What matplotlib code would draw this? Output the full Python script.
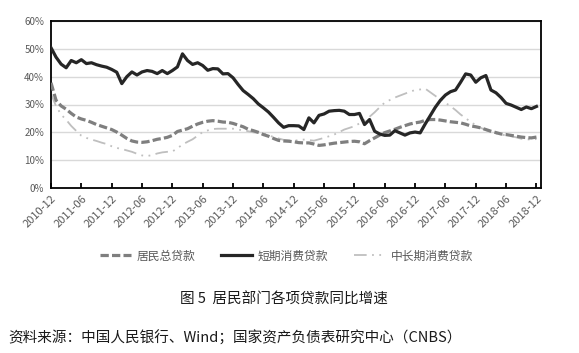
import matplotlib
matplotlib.use("Agg")
import matplotlib.pyplot as plt
import numpy as np
import pandas as pd

plt.rcParams['font.family'] = ['Noto Sans CJK SC', 'DejaVu Sans']

months = pd.period_range('2010-12', '2018-12', freq='M').strftime('%Y-%m').tolist()
tick_labels = months[::6]

total_loans = [37.8, 31.5, 29.5, 28.3, 26.8, 25.5, 24.8, 24.3, 23.6, 22.8,
               22.2, 21.6, 21.0, 20.1, 19.0, 17.8, 16.9, 16.5, 16.4, 16.6,
               17.0, 17.5, 17.8, 18.2, 18.9, 20.3, 20.8, 21.3, 22.2, 23.0,
               23.6, 24.0, 24.2, 24.0, 23.7, 23.6, 23.2, 22.6, 22.0, 21.1,
               20.6, 20.0, 19.2, 18.6, 17.8, 17.1, 16.9, 16.8, 16.6, 16.3,
               16.2, 16.2, 15.8, 15.3, 15.5, 15.8, 16.1, 16.3, 16.5, 16.7,
               16.8, 16.6, 15.9, 17.0, 18.0, 19.0, 19.9, 20.5, 21.1, 21.8,
               22.4, 23.0, 23.4, 23.7, 24.3, 24.6, 24.6, 24.4, 24.1, 23.8,
               23.6, 23.4, 22.9, 22.3, 22.0, 21.6, 21.0, 20.4, 19.9, 19.4,
               19.2, 18.9, 18.6, 18.3, 18.1, 18.0, 18.3]

short_term = [50.4, 47.0, 44.5, 43.2, 45.8, 45.0, 46.1, 44.7, 45.0, 44.3,
              43.8, 43.4, 42.6, 41.6, 37.5, 40.0, 41.7, 40.6, 41.7, 42.2,
              41.9, 41.1, 42.2, 41.1, 42.2, 43.5, 48.2, 45.8, 44.4, 45.0,
              44.0, 42.3, 42.9, 42.8, 41.0, 41.1, 39.6, 37.2, 35.0, 33.6,
              32.1, 30.2, 28.8, 27.3, 25.4, 23.4, 21.8, 22.4, 22.4, 22.3,
              21.0, 25.2, 23.4, 26.1, 26.6, 27.6, 27.8, 27.9, 27.6, 26.4,
              26.4, 26.8, 22.8, 24.6, 20.4, 19.4, 18.9, 19.0, 20.6, 19.8,
              19.0, 19.8, 20.1, 19.8, 23.0, 26.0, 29.0, 31.5, 33.4, 34.6,
              35.2, 38.0, 41.0, 40.6, 38.0, 39.6, 40.4, 35.2, 34.2, 32.5,
              30.4, 29.8, 29.0, 28.2, 29.1, 28.5, 29.3]

long_term = [33.8, 29.4, 26.4, 24.5, 22.3, 20.5, 18.8, 18.0, 17.4, 16.9,
             16.3, 15.8, 15.0, 14.4, 14.0, 13.5, 13.0, 12.3, 11.7, 11.5,
             11.8, 12.4, 12.8, 13.0, 13.1, 14.3, 15.6, 16.6, 17.5, 18.8,
             20.1, 20.7, 21.2, 21.3, 21.3, 21.3, 21.3, 21.0, 20.7, 20.4,
             20.0, 19.8, 19.6, 19.0, 18.3, 17.8, 17.3, 17.1, 17.0, 17.2,
             17.4, 17.2, 17.0, 17.5, 18.0, 18.6, 19.2, 20.1, 21.0, 21.6,
             22.2, 23.2, 24.3, 25.6, 27.2, 29.0, 30.7, 31.6, 32.5, 33.2,
             33.9, 34.6, 35.2, 35.4, 35.7, 34.4, 33.1, 31.8, 30.6, 29.4,
             28.0, 26.4, 25.1, 23.7, 22.6, 21.6, 20.8, 20.1, 19.6, 19.2,
             18.9, 18.6, 18.2, 17.7, 17.5, 17.4, 17.6]

series_names = ['居民总贷款', '短期消费贷款', '中长期消费贷款']

fig = plt.figure(figsize=(5.79, 3.53), dpi=100)
ax = fig.add_axes([51/579, 1 - 188/353, 490/579, 167/353])

x = np.arange(len(months))
ax.plot(x, total_loans, color='#7F7F7F', lw=2.3, dashes=(2.6, 1.0),
        label=series_names[0], zorder=3)
ax.plot(x, short_term, color='#262626', lw=2.3, label=series_names[1], zorder=4)
ax.plot(x, long_term, color='#BFBFBF', lw=1.3, dashes=(7, 3, 1, 3, 1, 3),
        label=series_names[2], zorder=2)

ax.set_xlim(0, 96.9)
ax.set_ylim(0, 60)
ax.set_yticks(np.arange(0, 61, 10))
ax.set_yticklabels([f'{v}%' for v in range(0, 61, 10)])
ax.yaxis.grid(True, color='#D9D9D9', lw=1.0)
ax.set_axisbelow(True)

ticks = x[::6]
ax.set_xticks(ticks)
ax.set_xticklabels(tick_labels, rotation=45, ha='right', rotation_mode='anchor')

for s in ax.spines.values():
    s.set_color('black')
    s.set_linewidth(1.3)

ax.tick_params(axis='x', direction='in', length=3.5, width=1.3, colors='black',
               labelcolor='#595959', labelsize=8, pad=4)
ax.tick_params(axis='y', length=0, labelcolor='#595959', labelsize=7, pad=5)

fig.legend(loc='center', bbox_to_anchor=(0.495, 1 - 256/353), ncol=3, frameon=False,
           fontsize=8.5, handlelength=2.6, columnspacing=2.2, handletextpad=0.5,
           labelcolor='#595959')

fig.text(0.49, 1 - 300/353, '图 5  居民部门各项贷款同比增速', ha='center', va='center',
         fontsize=10.5, color='#1a1a1a')
fig.text(8/579, 1 - 338/353, '资料来源：中国人民银行、Wind；国家资产负债表研究中心（CNBS）',
         ha='left', va='center', fontsize=10.5, color='#1a1a1a')

fig.savefig('out.png', dpi=100)
